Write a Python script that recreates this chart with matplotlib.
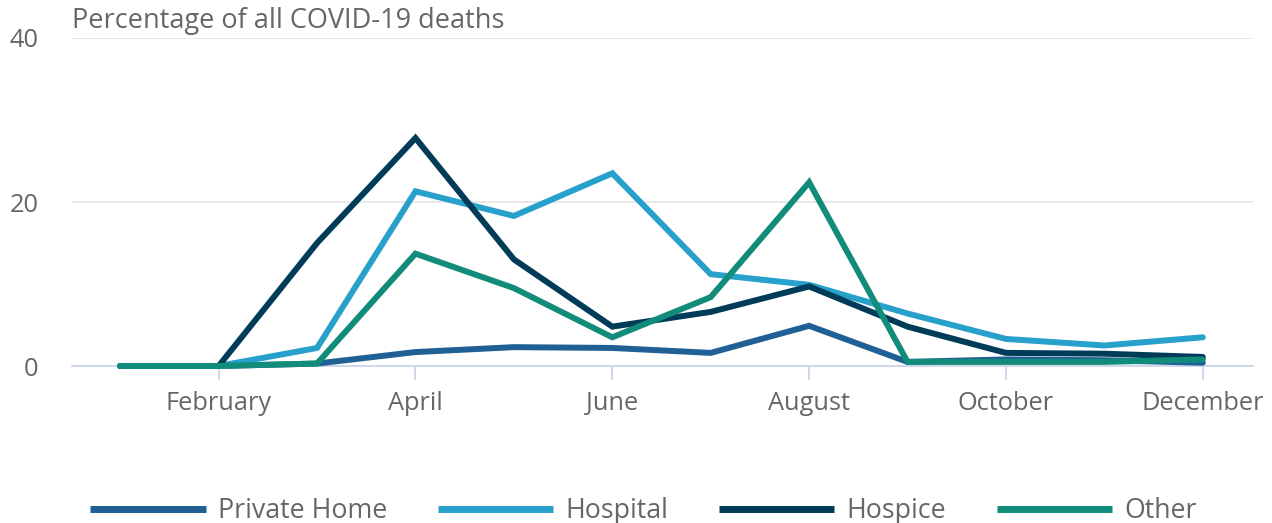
import matplotlib
matplotlib.use("Agg")
import matplotlib.pyplot as plt

months = ["January", "February", "March", "April", "May", "June", "July",
          "August", "September", "October", "November", "December"]
private_home = [0, 0, 0.3, 1.7, 2.3, 2.2, 1.6, 4.9, 0.5, 0.8, 0.7, 0.4]
hospital = [0, 0, 2.2, 21.3, 18.3, 23.5, 11.2, 9.9, 6.4, 3.3, 2.5, 3.5]
hospice = [0, 0, 15.0, 27.8, 13.0, 4.8, 6.6, 9.7, 4.8, 1.6, 1.5, 1.1]
other = [0, 0, 0.3, 13.7, 9.5, 3.5, 8.4, 22.4, 0.5, 0.5, 0.5, 0.8]

series = [("Private Home", private_home, "#206095"),
          ("Hospital", hospital, "#27a0cc"),
          ("Hospice", hospice, "#003c57"),
          ("Other", other, "#118c7b")]

plt.rcParams['font.family'] = ['Open Sans', 'DejaVu Sans']
W, H = 1272, 523
fig = plt.figure(figsize=(W / 100, H / 100), dpi=100)
ax = fig.add_axes([72 / W, 1 - 366 / H, (1253 - 72) / W, (366 - 38) / H])

x = list(range(1, len(months) + 1))
for name, vals, col in series:
    ax.plot(x, vals, color=col, lw=4.3, label=name, solid_capstyle='round',
            solid_joinstyle='miter', clip_on=False, zorder=3)

ax.set_xlim(0.51, 12.51)
ax.set_ylim(0, 40)
ax.set_yticks([0, 20, 40])
ax.set_xticks(x[1::2])
ax.set_xticklabels(months[1::2])
ax.yaxis.grid(True, color="#e6e6e6", lw=1.3)
ax.set_axisbelow(True)
for s in ["top", "right", "left"]:
    ax.spines[s].set_visible(False)
ax.spines["bottom"].set_color("#ccd6eb")
ax.spines["bottom"].set_linewidth(1.3)
ax.tick_params(axis="x", colors="#ccd6eb", length=10, width=1.3, labelcolor="#666666",
               labelsize=18.3, pad=8)
ax.tick_params(axis="y", length=0, labelcolor="#666666", labelsize=18.3, pad=24)

fig.text(72 / W, 1 - 21 / H, "Percentage of all COVID-19 deaths", color="#666666",
         fontsize=19.5, va="center", ha="left")

leg = fig.legend(loc="center", bbox_to_anchor=(0.506, 12 / H), ncol=4, frameon=False,
                 handlelength=4.3, handletextpad=0.45, columnspacing=1.9,
                 fontsize=19.3, labelcolor="#666666")
for h in leg.legend_handles:
    h.set_linewidth(5)
    h.set_solid_capstyle('butt')

fig.savefig("out.png", dpi=100)
